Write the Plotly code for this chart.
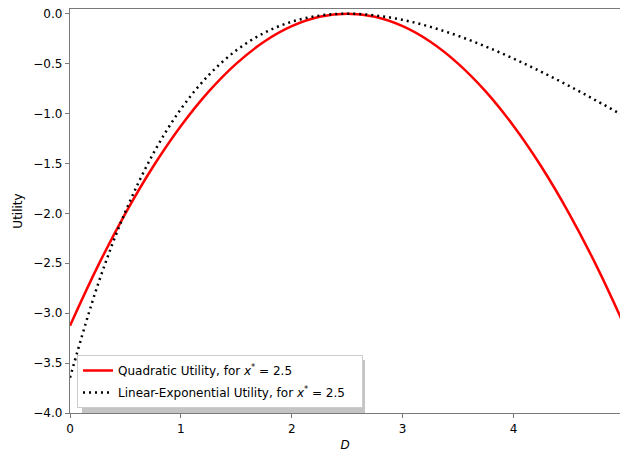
import plotly.graph_objects as go

# Decision variable D
D = [0.0, 0.25, 0.5, 0.75, 1.0, 1.25, 1.5, 1.75, 2.0, 2.25, 2.5,
     2.75, 3.0, 3.25, 3.5, 3.75, 4.0, 4.25, 4.5, 4.75, 5.0]

# Quadratic utility, x* = 2.5
quad = [-3.125, -2.531, -2.0, -1.531, -1.125, -0.781, -0.5, -0.281, -0.125, -0.031, 0.0,
        -0.031, -0.125, -0.281, -0.5, -0.781, -1.125, -1.531, -2.0, -2.531, -3.125]

# Linear-exponential utility, x* = 2.5
linex = [-3.646, -2.719, -1.982, -1.403, -0.955, -0.616, -0.367, -0.193, -0.080, -0.019, 0.0,
         -0.017, -0.062, -0.132, -0.222, -0.329, -0.450, -0.582, -0.723, -0.873, -1.028]

xticks = [0, 1, 2, 3, 4]
yticks = [0.0, -0.5, -1.0, -1.5, -2.0, -2.5, -3.0, -3.5, -4.0]
yticklabels = ["0.0", "\u22120.5", "\u22121.0", "\u22121.5", "\u22122.0",
               "\u22122.5", "\u22123.0", "\u22123.5", "\u22124.0"]

fig = go.Figure()
fig.add_trace(go.Scatter(
    x=D, y=quad, mode="lines", line=dict(color="red", width=2.5, shape="spline"),
    legendgroup="q",
    name="Quadratic Utility, for <i>x</i><sup>*</sup> = 2.5"))
fig.add_trace(go.Scatter(
    x=D, y=linex, mode="lines",
    line=dict(color="black", width=2.5, dash="2px,4px", shape="spline"),
    legendgroup="l",
    name="Linear-Exponential Utility, for <i>x</i><sup>*</sup> = 2.5\u00a0\u00a0\u00a0"))

W, H = 620, 452
L, R, T, B = 70, 0, 9, 39
pw, ph = W - L - R, H - T - B

# legend box target (pixels) and its shadow
lx0, lx1, ly0, ly1 = 77, 360, 355, 408
off = 5
fig.add_shape(type="rect", xref="paper", yref="paper",
              x0=(lx0 + off - L) / pw, x1=(lx1 + off - L) / pw,
              y0=(H - B - (ly1 + off)) / ph, y1=(H - B - (ly0 + off)) / ph,
              fillcolor="#c4c4c4", line=dict(width=0), layer="above")

axis_common = dict(showline=True, linecolor="#7a7a7a", linewidth=1.3,
                   ticks="outside", ticklen=4, tickcolor="#7a7a7a", tickwidth=1,
                   showgrid=False, zeroline=False,
                   tickfont=dict(family="DejaVu Sans", size=12, color="black"))

fig.update_layout(
    width=W, height=H,
    margin=dict(l=L, r=R, t=T, b=B),
    plot_bgcolor="white", paper_bgcolor="white",
    font=dict(family="DejaVu Sans", size=12, color="black"),
    xaxis=dict(range=[0, 4.96], tickvals=xticks, mirror=True,
               title=dict(text="<i>D</i>", standoff=6, font=dict(size=12)),
               **axis_common),
    yaxis=dict(range=[-4.0, 0.047], tickvals=yticks, ticktext=yticklabels,
               title=dict(text="Utility", standoff=8, font=dict(size=12)),
               **axis_common),
    legend=dict(x=(lx0 - L) / pw, y=(H - B - ly1) / ph, xanchor="left", yanchor="bottom",
                bgcolor="white", bordercolor="#cccccc", borderwidth=1,
                traceorder="grouped", tracegroupgap=3,
                font=dict(family="DejaVu Sans", size=12)),
    showlegend=True,
)

fig.write_html("out.html")
